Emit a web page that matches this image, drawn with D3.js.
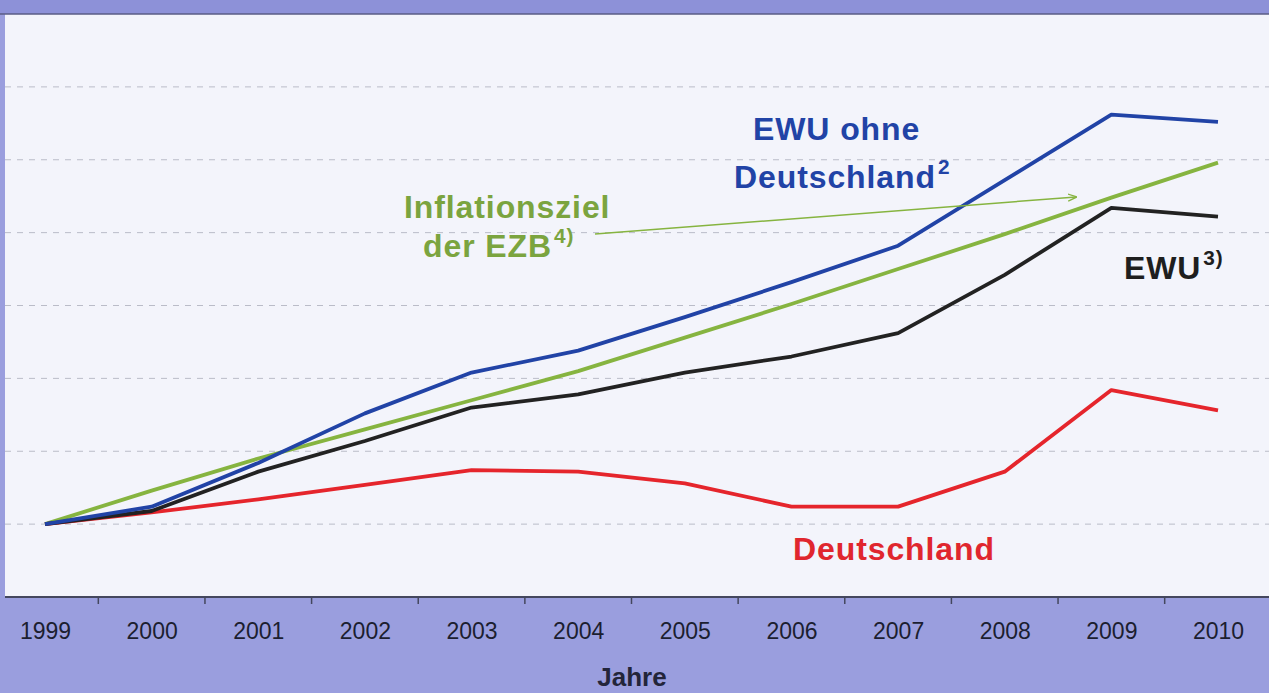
<!DOCTYPE html>
<html>
<head>
<meta charset="utf-8">
<script src="https://cdn.jsdelivr.net/npm/d3@7/dist/d3.min.js"></script>
<style>
  body { margin: 0; background: #9a9ede; }
  svg text { font-family: "Liberation Sans", Arial, sans-serif; }
</style>
</head>
<body>
<div id="chart"></div>
<script>
// index 1999 = 100
var years = [1999, 2000, 2001, 2002, 2003, 2004, 2005, 2006, 2007, 2008, 2009, 2010];
var ewuOhneDe = [100, 101.2, 104.2, 107.6, 110.4, 111.9, 114.2, 116.6, 119.1, 123.6, 128.1, 127.6];
var ewu = [100, 100.9, 103.6, 105.7, 108.0, 108.9, 110.4, 111.5, 113.1, 117.1, 121.7, 121.1];
var deutschland = [100, 100.8, 101.7, 102.7, 103.7, 103.6, 102.8, 101.2, 101.2, 103.6, 109.2, 107.8];
var inflationsziel = [100, 102.3, 104.5, 106.5, 108.5, 110.5, 112.8, 115.1, 117.5, 119.9, 122.4, 124.8];
var gridValues = [100, 105, 110, 115, 120, 125, 130];

var W = 1269, H = 693;
const PLOT_TOP = 14, PLOT_BOTTOM = 597, PLOT_LEFT = 5;

var svg = d3.select("#chart").append("svg")
	.attr("width", W).attr("height", H);

// bands
svg.append("rect").attr("x", 0).attr("y", 0).attr("width", W).attr("height", H).attr("fill", "#9a9ede");
svg.append("rect").attr("x", 0).attr("y", 0).attr("width", W).attr("height", PLOT_TOP).attr("fill", "#8d91d8");
svg.append("rect").attr("x", PLOT_LEFT).attr("y", PLOT_TOP).attr("width", W - PLOT_LEFT).attr("height", PLOT_BOTTOM - PLOT_TOP).attr("fill", "#f3f4fb");
svg.append("line").attr("x1", 0).attr("x2", W).attr("y1", PLOT_TOP).attr("y2", PLOT_TOP).attr("stroke", "#5a5d86").attr("stroke-width", 1.5);

var x = d3.scalePoint().domain(years).range([45, 1218]);
var y = d3.scaleLinear().domain([95, 135]).range([PLOT_BOTTOM, PLOT_TOP]);

// dashed gridlines
svg.append("g").selectAll("line")
	.data(gridValues)
	.enter().append("line")
	.attr("x1", PLOT_LEFT).attr("x2", W)
	.attr("y1", function(d) { return y(d); })
	.attr("y2", function(d) { return y(d); })
	.attr("stroke", "#babcc8")
	.attr("stroke-width", 1)
	.attr("stroke-dasharray", "6,6");

// x axis: labels under years, ticks between years
var xAxis = d3.axisBottom(x).tickSize(0).tickPadding(0);
var gx = svg.append("g")
	.attr("transform", "translate(0," + PLOT_BOTTOM + ")")
	.call(xAxis);
gx.select(".domain").remove();
gx.selectAll("text")
	.attr("y", 42).attr("dy", null)
	.attr("fill", "#1c1e30")
	.style("font-size", "23px");

svg.append("line").attr("x1", PLOT_LEFT).attr("x2", W).attr("y1", PLOT_BOTTOM).attr("y2", PLOT_BOTTOM)
	.attr("stroke", "#44475e").attr("stroke-width", 2);

var mids = years.slice(1).map(function(yr, i) { return (x(years[i]) + x(yr)) / 2; });
svg.append("g").selectAll("line")
	.data(mids)
	.enter().append("line")
	.attr("x1", function(d) { return d; }).attr("x2", function(d) { return d; })
	.attr("y1", PLOT_BOTTOM).attr("y2", PLOT_BOTTOM + 7)
	.attr("stroke", "#44475e").attr("stroke-width", 1.5);

svg.append("text")
	.attr("x", 632).attr("y", 686)
	.attr("text-anchor", "middle")
	.attr("fill", "#23253a")
	.style("font-size", "26px").style("font-weight", "bold")
	.text("Jahre");

// lines
var series = [
	{ name: "inflationsziel", values: inflationsziel, color: "#86b440" },
	{ name: "deutschland", values: deutschland, color: "#e5252c" },
	{ name: "ewu", values: ewu, color: "#222222" },
	{ name: "ewuOhneDe", values: ewuOhneDe, color: "#2143a6" }
];
var line = d3.line()
	.x(function(d, i) { return x(years[i]); })
	.y(function(d) { return y(d); });

svg.append("g").selectAll("path")
	.data(series)
	.enter().append("path")
	.attr("d", function(s) { return line(s.values); })
	.attr("fill", "none")
	.attr("stroke", function(s) { return s.color; })
	.attr("stroke-width", 3.8)
	.attr("stroke-linejoin", "round");

// arrow from label to target line
svg.append("defs").append("marker")
	.attr("id", "arr").attr("viewBox", "0 0 10 10")
	.attr("refX", 9).attr("refY", 5)
	.attr("markerWidth", 6).attr("markerHeight", 6)
	.attr("orient", "auto")
	.append("path").attr("d", "M0,1L10,5L0,9").attr("fill", "none").attr("stroke", "#86b440").attr("stroke-width", 1.5);
svg.append("line")
	.attr("x1", 595).attr("y1", 234).attr("x2", 1076).attr("y2", 197)
	.attr("stroke", "#86b440").attr("stroke-width", 1.5)
	.attr("marker-end", "url(#arr)");

// labels
function label(lines, color, size) {
	lines.forEach(function(l) {
		var t = svg.append("text")
			.attr("x", l.x).attr("y", l.y)
			.attr("text-anchor", l.anchor || "start")
			.attr("fill", color)
			.style("font-size", size + "px").style("font-weight", "bold")
			.style("letter-spacing", "0.9px");
		t.append("tspan").text(l.text);
		if (l.sup) t.append("tspan").attr("dx", 2).attr("dy", -14).style("font-size", (size * 0.65) + "px").text(l.sup);
	});
}
label([
	{ x: 753, y: 140, text: "EWU ohne" },
	{ x: 734, y: 188, text: "Deutschland", sup: "2" }
], "#2143a6", 32);
label([
	{ x: 404, y: 218, text: "Inflationsziel" },
	{ x: 423, y: 257, text: "der EZB", sup: "4)" }
], "#7ba43f", 32);
label([
	{ x: 1124, y: 279, text: "EWU", sup: "3)" }
], "#1e1e1e", 32);
label([
	{ x: 793, y: 560, text: "Deutschland" }
], "#e0262e", 32);
</script>
</body>
</html>
